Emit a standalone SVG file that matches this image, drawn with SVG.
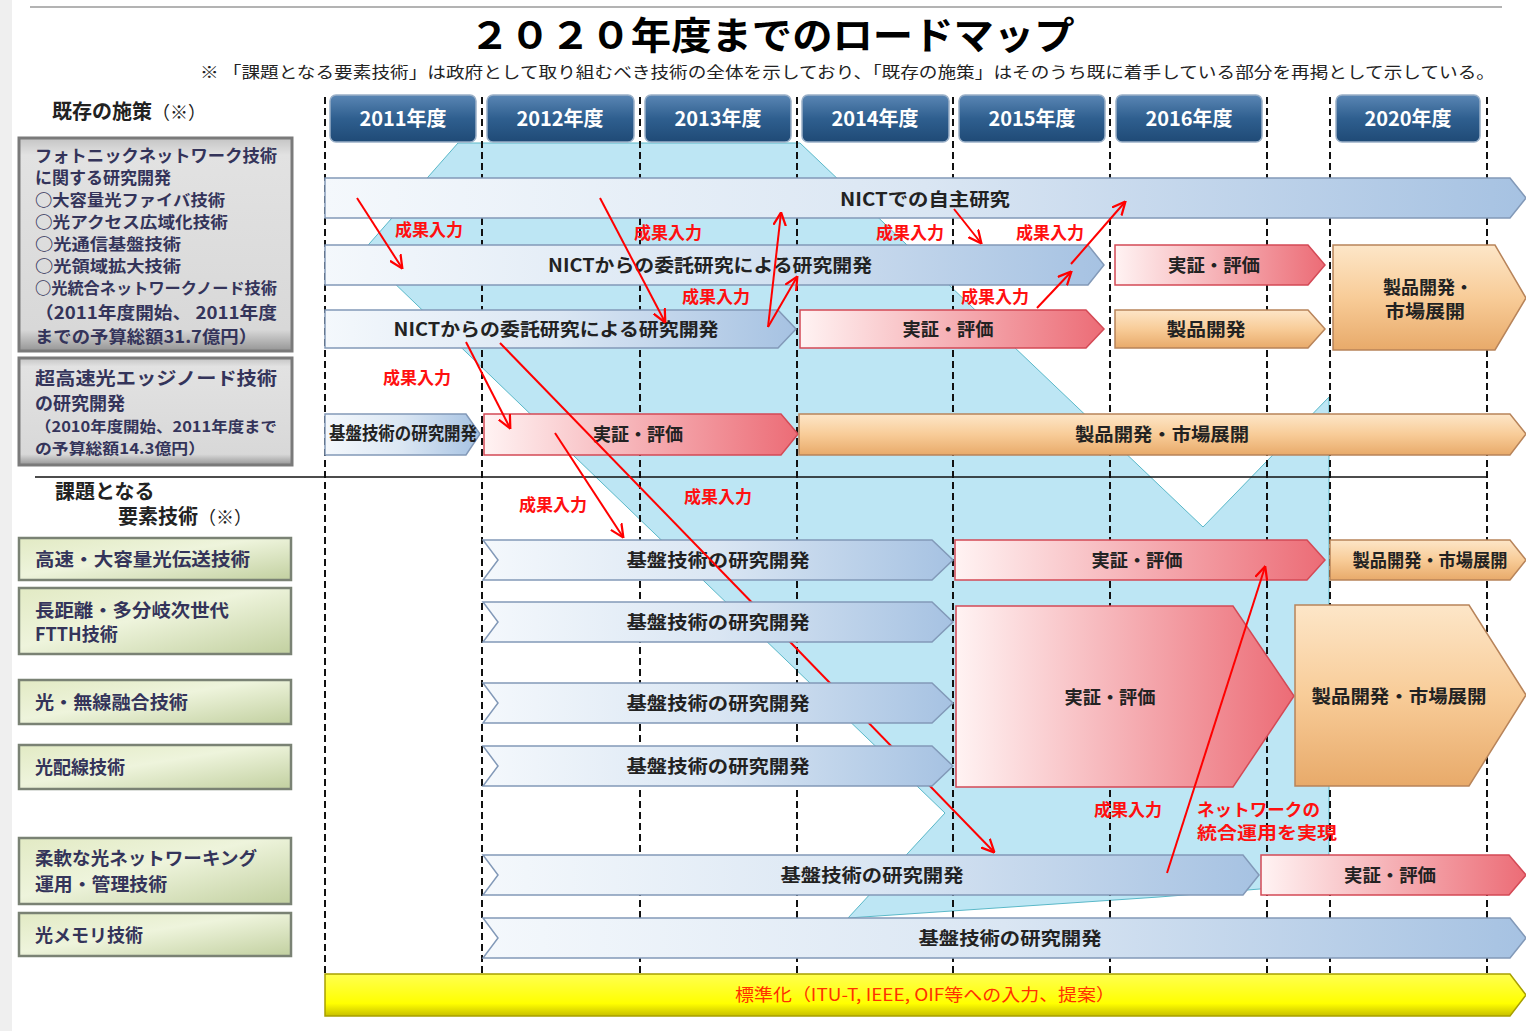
<svg xmlns="http://www.w3.org/2000/svg" width="1526" height="1031" viewBox="0 0 1526 1031">
<defs>
<linearGradient id="gBlue" x1="0" y1="0" x2="1" y2="0"><stop offset="0" stop-color="#f4f8fc"/><stop offset="0.5" stop-color="#dae6f3"/><stop offset="1" stop-color="#a6c2e2"/></linearGradient>
<linearGradient id="gPink" x1="0" y1="0" x2="1" y2="0"><stop offset="0" stop-color="#fff3f3"/><stop offset="1" stop-color="#ec6c76"/></linearGradient>
<linearGradient id="gOrange" x1="0" y1="0" x2="0" y2="1"><stop offset="0" stop-color="#fde6c8"/><stop offset="0.5" stop-color="#f8cc98"/><stop offset="1" stop-color="#e8aa6a"/></linearGradient>
<linearGradient id="gYellow" x1="0" y1="0" x2="0" y2="1"><stop offset="0" stop-color="#ffff50"/><stop offset="0.7" stop-color="#ffff00"/><stop offset="1" stop-color="#c8c000"/></linearGradient>
<linearGradient id="gHead" x1="0" y1="0" x2="0" y2="1"><stop offset="0" stop-color="#5a86b4"/><stop offset="0.5" stop-color="#2f5f8f"/><stop offset="1" stop-color="#1f4a76"/></linearGradient>
<linearGradient id="gGray" x1="0" y1="0" x2="0" y2="1"><stop offset="0" stop-color="#c4c4c4"/><stop offset="0.08" stop-color="#e2e2e2"/><stop offset="0.9" stop-color="#d8d8d8"/><stop offset="1" stop-color="#959595"/></linearGradient>
<linearGradient id="gGreen" x1="0" y1="0" x2="1" y2="1"><stop offset="0" stop-color="#e2eac4"/><stop offset="0.45" stop-color="#eef4dc"/><stop offset="1" stop-color="#c2d0a0"/></linearGradient>
<marker id="ah" viewBox="0 0 10 10" refX="9" refY="5" markerWidth="14" markerHeight="14" markerUnits="userSpaceOnUse" orient="auto"><path d="M0,0.5 L9.5,5 L0,9.5" fill="none" stroke="#ff0000" stroke-width="1.6"/></marker>
<style>
.jp{font-family:'Noto Sans CJK JP','Noto Sans',sans-serif;font-weight:bold}
.blue{fill:url(#gBlue);stroke:#8299b8;stroke-width:1.5}
.pink{fill:url(#gPink);stroke:#d44a56;stroke-width:1.5}
.orange{fill:url(#gOrange);stroke:#b8845a;stroke-width:1.5}
.yellow{fill:url(#gYellow);stroke:#a8a000;stroke-width:1.5}
.head{fill:url(#gHead);stroke:#9ab0c8;stroke-width:1.5}
.gray{fill:url(#gGray);stroke:#7a7a7a;stroke-width:3}
.green{fill:url(#gGreen);stroke:#7a8274;stroke-width:2.5}
.lbl{font-family:'Noto Sans CJK JP','Noto Sans',sans-serif;font-weight:bold;font-size:18px;fill:#222;text-anchor:middle}
.htx{font-family:'Noto Sans CJK JP','Noto Sans',sans-serif;font-weight:bold;font-size:20px;fill:#fff;text-anchor:middle}
.red{font-family:'Noto Sans CJK JP','Noto Sans',sans-serif;font-weight:bold;font-size:17px;fill:#ff1010}
.lt{font-family:'Noto Sans CJK JP','Noto Sans',sans-serif;font-weight:bold;fill:#34345a}
.dash{stroke:#111;stroke-width:2;stroke-dasharray:7 4;fill:none}
.conn{stroke:#ff0000;stroke-width:2;fill:none;marker-end:url(#ah)}
</style>
</defs>
<rect x="0" y="0" width="1526" height="1031" fill="#ffffff"/>
<rect x="0" y="0" width="12" height="1031" fill="#efefef"/>
<line x1="30" y1="7" x2="1502" y2="7" stroke="#9a9a9a" stroke-width="1.5"/>

<g id="title">
<text x="772" y="49" class="jp" font-size="38" text-anchor="middle" textLength="605" lengthAdjust="spacingAndGlyphs" fill="#000">２０２０年度までのロードマップ</text>
<text x="200" y="78" class="jp" font-size="15.5" textLength="1295" lengthAdjust="spacingAndGlyphs" fill="#222" style="font-weight:normal">※ 「課題となる要素技術」は政府として取り組むべき技術の全体を示しており、「既存の施策」はそのうち既に着手している部分を再掲として示している。</text>
</g>

<path id="cyan-bg" d="M458,143 L800,143 L1203,527 L1329,397 L1329,852 Q1329,884 1298,886 L1159,897 L848,918 L945,813 L362,252 Z" fill="#bde6f4" stroke="#5ab8c8" stroke-width="1"/>

<g id="gridlines">
<line class="dash" x1="325" y1="97" x2="325" y2="975"/>
<line class="dash" x1="482" y1="97" x2="482" y2="975"/>
<line class="dash" x1="640" y1="97" x2="640" y2="975"/>
<line class="dash" x1="797" y1="97" x2="797" y2="975"/>
<line class="dash" x1="953" y1="97" x2="953" y2="975"/>
<line class="dash" x1="1110" y1="97" x2="1110" y2="975"/>
<line class="dash" x1="1267" y1="97" x2="1267" y2="975"/>
<line class="dash" x1="1330" y1="97" x2="1330" y2="975"/>
<line class="dash" x1="1487" y1="97" x2="1487" y2="975"/>
<line x1="35" y1="477" x2="1487" y2="477" stroke="#111" stroke-width="1.5"/>
</g>

<g id="year-headers">
<rect class="head" x="330" y="95" width="146" height="47" rx="6"/><text class="htx" x="403" y="126">2011年度</text>
<rect class="head" x="487" y="95" width="147" height="47" rx="6"/><text class="htx" x="560" y="126">2012年度</text>
<rect class="head" x="645" y="95" width="146" height="47" rx="6"/><text class="htx" x="718" y="126">2013年度</text>
<rect class="head" x="802" y="95" width="147" height="47" rx="6"/><text class="htx" x="875" y="126">2014年度</text>
<rect class="head" x="959" y="95" width="146" height="47" rx="6"/><text class="htx" x="1032" y="126">2015年度</text>
<rect class="head" x="1116" y="95" width="146" height="47" rx="6"/><text class="htx" x="1189" y="126">2016年度</text>
<rect class="head" x="1336" y="95" width="144" height="47" rx="6"/><text class="htx" x="1408" y="126">2020年度</text>
</g>

<g id="left-existing">
<text x="52" y="119" class="jp" font-size="20" fill="#222">既存の施策<tspan style="font-weight:normal" font-size="18">（※）</tspan></text>
<rect class="gray" x="19" y="138" width="273" height="213"/>
<text class="lt" font-size="17" x="35" y="162" textLength="242" lengthAdjust="spacingAndGlyphs">フォトニックネットワーク技術</text>
<text class="lt" font-size="17" x="35" y="184">に関する研究開発</text>
<text class="lt" font-size="15.5" x="35" y="206" textLength="190" lengthAdjust="spacingAndGlyphs">○大容量光ファイバ技術</text>
<text class="lt" font-size="15.5" x="35" y="228" textLength="193" lengthAdjust="spacingAndGlyphs">○光アクセス広域化技術</text>
<text class="lt" font-size="15.5" x="35" y="250" textLength="146" lengthAdjust="spacingAndGlyphs">○光通信基盤技術</text>
<text class="lt" font-size="15.5" x="35" y="272" textLength="146" lengthAdjust="spacingAndGlyphs">○光領域拡大技術</text>
<text class="lt" font-size="15.5" x="35" y="294" textLength="242" lengthAdjust="spacingAndGlyphs">○光統合ネットワークノード技術</text>
<text class="lt" font-size="17" x="35" y="319" textLength="242" lengthAdjust="spacingAndGlyphs">（2011年度開始、 2011年度</text>
<text class="lt" font-size="17" x="35" y="343" textLength="222" lengthAdjust="spacingAndGlyphs">までの予算総額31.7億円）</text>
</g>
<g id="left-edge-node">
<rect class="gray" x="19" y="358" width="273" height="107"/>
<text class="lt" font-size="18" x="35" y="385" textLength="242" lengthAdjust="spacingAndGlyphs">超高速光エッジノード技術</text>
<text class="lt" font-size="18" x="35" y="410">の研究開発</text>
<text class="lt" font-size="15" x="35" y="432" textLength="242" lengthAdjust="spacingAndGlyphs">（2010年度開始、2011年度まで</text>
<text class="lt" font-size="15" x="35" y="454" textLength="170" lengthAdjust="spacingAndGlyphs">の予算総額14.3億円）</text>
</g>

<g id="left-tasks">
<text x="55" y="499" class="jp" font-size="20" fill="#222">課題となる</text>
<text x="118" y="524" class="jp" font-size="20" fill="#222">要素技術<tspan style="font-weight:normal" font-size="18">（※）</tspan></text>
</g>
<g id="task-1"><rect class="green" x="19" y="538" width="272" height="42"/><text class="lt" font-size="18" x="35" y="566" textLength="215" lengthAdjust="spacingAndGlyphs">高速・大容量光伝送技術</text></g>
<g id="task-2"><rect class="green" x="19" y="588" width="272" height="66"/><text class="lt" font-size="18" x="35" y="617" textLength="194" lengthAdjust="spacingAndGlyphs">長距離・多分岐次世代</text><text class="lt" font-size="18" x="35" y="641">FTTH技術</text></g>
<g id="task-3"><rect class="green" x="19" y="680" width="272" height="44"/><text class="lt" font-size="18" x="35" y="709" textLength="153" lengthAdjust="spacingAndGlyphs">光・無線融合技術</text></g>
<g id="task-4"><rect class="green" x="19" y="745" width="272" height="44"/><text class="lt" font-size="18" x="35" y="774">光配線技術</text></g>
<g id="task-5"><rect class="green" x="19" y="838" width="272" height="66"/><text class="lt" font-size="18" x="35" y="865" textLength="222" lengthAdjust="spacingAndGlyphs">柔軟な光ネットワーキング</text><text class="lt" font-size="18" x="35" y="891" textLength="132" lengthAdjust="spacingAndGlyphs">運用・管理技術</text></g>
<g id="task-6"><rect class="green" x="19" y="913" width="272" height="43"/><text class="lt" font-size="18" x="35" y="942">光メモリ技術</text></g>

<g id="nict-own"><path class="blue" d="M325,178 H1510 L1526,198 L1510,218 H325 Z"/><text class="lbl" x="925" y="206" textLength="170" lengthAdjust="spacingAndGlyphs">NICTでの自主研究</text></g>
<g id="nict-contract-1"><path class="blue" d="M325,245 H1088 L1104,265 L1088,285 H325 Z"/><text class="lbl" x="710" y="272" textLength="324" lengthAdjust="spacingAndGlyphs">NICTからの委託研究による研究開発</text></g>
<g id="eval-b"><path class="pink" d="M1115,245 H1308 L1325,265 L1308,285 H1115 Z"/><text class="lbl" x="1214" y="272" textLength="92" lengthAdjust="spacingAndGlyphs">実証・評価</text></g>
<g id="product-bc"><path class="orange" d="M1333,245 H1495 L1526,298 L1495,350 H1333 Z"/><text class="lbl" x="1428" y="294" textLength="90" lengthAdjust="spacingAndGlyphs">製品開発・</text><text class="lbl" x="1425" y="318" textLength="80" lengthAdjust="spacingAndGlyphs">市場展開</text></g>
<g id="nict-contract-2"><path class="blue" d="M325,310 H778 L796,329 L778,348 H325 Z"/><text class="lbl" x="556" y="336" textLength="325" lengthAdjust="spacingAndGlyphs">NICTからの委託研究による研究開発</text></g>
<g id="eval-c"><path class="pink" d="M800,310 H1086 L1104,329 L1086,348 H800 Z"/><text class="lbl" x="948" y="336" textLength="91" lengthAdjust="spacingAndGlyphs">実証・評価</text></g>
<g id="product-c"><path class="orange" d="M1115,310 H1308 L1325,329 L1308,348 H1115 Z"/><text class="lbl" x="1206" y="336" textLength="79" lengthAdjust="spacingAndGlyphs">製品開発</text></g>
<g id="basic-d"><path class="blue" d="M325,414 H466 L480,434 L466,455 H325 Z"/><text class="lbl" x="403" y="440" font-size="14" textLength="148" lengthAdjust="spacingAndGlyphs">基盤技術の研究開発</text></g>
<g id="eval-d"><path class="pink" d="M484,414 H781 L798,434 L781,455 H484 Z"/><text class="lbl" x="638" y="441" textLength="90" lengthAdjust="spacingAndGlyphs">実証・評価</text></g>
<g id="product-d"><path class="orange" d="M799,414 H1510 L1526,434 L1510,455 H799 Z"/><text class="lbl" x="1162" y="441" textLength="174" lengthAdjust="spacingAndGlyphs">製品開発・市場展開</text></g>

<g id="basic-1"><path class="blue" d="M483,540 H932 L953,560 L932,580 H483 L498,560 Z"/><text class="lbl" x="718" y="567" textLength="183" lengthAdjust="spacingAndGlyphs">基盤技術の研究開発</text></g>
<g id="eval-1"><path class="pink" d="M955,540 H1307 L1325,560 L1307,580 H955 Z"/><text class="lbl" x="1137" y="567" textLength="91" lengthAdjust="spacingAndGlyphs">実証・評価</text></g>
<g id="product-1"><path class="orange" d="M1330,540 H1510 L1526,560 L1510,580 H1330 Z"/><text class="lbl" x="1430" y="567" font-size="16" textLength="155" lengthAdjust="spacingAndGlyphs">製品開発・市場展開</text></g>
<g id="eval-big"><path class="pink" d="M956,606 H1233 L1294,696 L1233,787 H956 Z"/><text class="lbl" x="1110" y="704" textLength="91" lengthAdjust="spacingAndGlyphs">実証・評価</text></g>
<g id="product-big"><path class="orange" d="M1295,605 H1469 L1526,695 L1469,786 H1295 Z"/><text class="lbl" x="1399" y="703" textLength="175" lengthAdjust="spacingAndGlyphs">製品開発・市場展開</text></g>
<g id="basic-5"><path class="blue" d="M483,855 H1243 L1259,875 L1243,895 H483 L498,875 Z"/><text class="lbl" x="872" y="882" textLength="183" lengthAdjust="spacingAndGlyphs">基盤技術の研究開発</text></g>
<g id="eval-5"><path class="pink" d="M1261,855 H1509 L1526,875 L1509,895 H1261 Z"/><text class="lbl" x="1390" y="882" textLength="92" lengthAdjust="spacingAndGlyphs">実証・評価</text></g>
<g id="basic-6"><path class="blue" d="M483,918 H1510 L1526,938 L1510,958 H483 L498,938 Z"/><text class="lbl" x="1010" y="945" textLength="183" lengthAdjust="spacingAndGlyphs">基盤技術の研究開発</text></g>
<g id="standard"><path class="yellow" d="M325,974 H1510 L1526,995 L1510,1016 H325 Z"/><text x="925" y="1001" class="jp" font-size="17" fill="#ff3000" text-anchor="middle" textLength="380" lengthAdjust="spacingAndGlyphs" style="font-weight:normal">標準化（ITU-T, IEEE, OIF等への入力、提案）</text></g>

<g id="connectors">
<line class="conn" x1="357" y1="198" x2="402" y2="268"/>
<line class="conn" x1="600" y1="198" x2="665" y2="322"/>
<line class="conn" x1="768" y1="327" x2="781" y2="213"/>
<line class="conn" x1="768" y1="327" x2="797" y2="277"/>
<line class="conn" x1="954" y1="209" x2="981" y2="243"/>
<line class="conn" x1="1037" y1="308" x2="1071" y2="272"/>
<line class="conn" x1="1071" y1="264" x2="1125" y2="202"/>
<line class="conn" x1="466" y1="342" x2="510" y2="428"/>
<line class="conn" x1="500" y1="343" x2="994" y2="852"/>
<line class="conn" x1="555" y1="433" x2="623" y2="537"/>
<line class="conn" x1="1167" y1="873" x2="1265" y2="567"/>
<text class="red" x="429" y="236" text-anchor="middle">成果入力</text>
<text class="red" x="668" y="239" text-anchor="middle">成果入力</text>
<text class="red" x="716" y="303" text-anchor="middle">成果入力</text>
<text class="red" x="910" y="239" text-anchor="middle">成果入力</text>
<text class="red" x="1050" y="239" text-anchor="middle">成果入力</text>
<text class="red" x="995" y="303" text-anchor="middle">成果入力</text>
<text class="red" x="417" y="384" text-anchor="middle">成果入力</text>
<text class="red" x="553" y="511" text-anchor="middle">成果入力</text>
<text class="red" x="718" y="503" text-anchor="middle">成果入力</text>
<text class="red" x="1128" y="816" text-anchor="middle">成果入力</text>
<text class="red" x="1197" y="816" textLength="123" lengthAdjust="spacingAndGlyphs">ネットワークの</text>
<text class="red" x="1197" y="839" textLength="140" lengthAdjust="spacingAndGlyphs">統合運用を実現</text>
</g>

<g id="basic-2"><path class="blue" d="M483,602 H932 L953,622 L932,642 H483 L498,622 Z"/><text class="lbl" x="718" y="629" textLength="183" lengthAdjust="spacingAndGlyphs">基盤技術の研究開発</text></g>
<g id="basic-3"><path class="blue" d="M483,683 H932 L953,703 L932,723 H483 L498,703 Z"/><text class="lbl" x="718" y="710" textLength="183" lengthAdjust="spacingAndGlyphs">基盤技術の研究開発</text></g>
<g id="basic-4"><path class="blue" d="M483,746 H932 L953,766 L932,786 H483 L498,766 Z"/><text class="lbl" x="718" y="773" textLength="183" lengthAdjust="spacingAndGlyphs">基盤技術の研究開発</text></g>
</svg>
